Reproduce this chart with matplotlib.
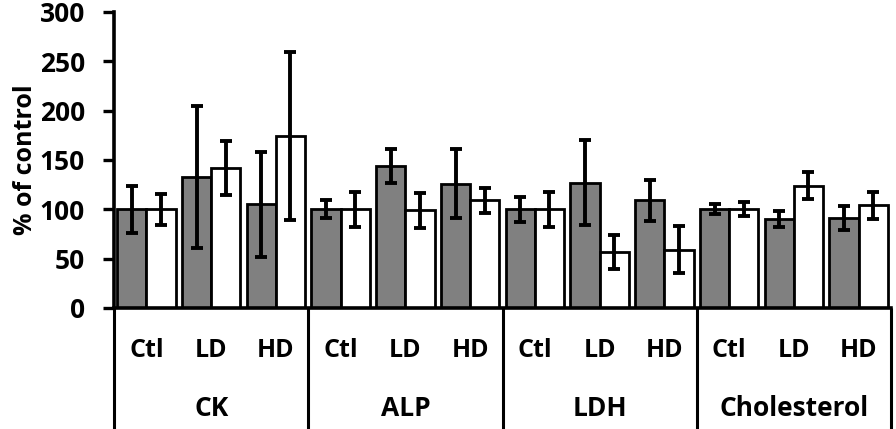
import matplotlib
matplotlib.use("Agg")
import matplotlib.pyplot as plt
import matplotlib.transforms as mtransforms
import numpy as np

plt.rcParams['font.family'] = ['Open Sans', 'DejaVu Sans']
plt.rcParams['font.weight'] = 'bold'

groups = ['CK', 'ALP', 'LDH', 'Cholesterol']
doses = ['Ctl', 'LD', 'HD']

gray_vals = [100, 133, 105, 100, 144, 126, 100, 127, 109, 100, 90, 91]
gray_err = [24, 72, 53, 9, 17, 35, 13, 43, 21, 5, 8, 12]
white_vals = [100, 142, 174, 100, 99, 109, 100, 57, 59, 100, 124, 104]
white_err = [16, 27, 85, 18, 18, 13, 18, 17, 24, 7, 14, 14]

fig = plt.figure(figsize=(8.96, 4.29), dpi=100)
ax = fig.add_axes([114 / 896, 121 / 429, 777 / 896, 296 / 429])

x = np.arange(len(gray_vals))
w = 0.45
err_kw = dict(elinewidth=2.8, capsize=4.5, capthick=2.8, ecolor='black')
ax.bar(x - w / 2, gray_vals, w, yerr=gray_err, color='#808080',
       edgecolor='black', linewidth=2.0, error_kw=err_kw, zorder=2)
ax.bar(x + w / 2, white_vals, w, yerr=white_err, color='white',
       edgecolor='black', linewidth=2.0, error_kw=err_kw, zorder=2)

ax.set_xlim(-0.5, len(x) - 0.5)
ax.set_ylim(0, 300)
ax.set_yticks(range(0, 301, 50))
ax.tick_params(axis='y', direction='out', length=8, width=2.4, pad=13,
               labelsize=19)
ax.set_xticks([])
for s in ['top', 'right']:
    ax.spines[s].set_visible(False)
ax.spines['left'].set_linewidth(2.6)
ax.spines['bottom'].set_linewidth(2.6)

trans = mtransforms.blended_transform_factory(ax.transData, ax.transAxes)

# group separators below the axis
for b in np.arange(-0.5, len(x), 3):
    ax.plot([b, b], [0, -0.42], color='black', lw=2.2, transform=trans,
            clip_on=False, solid_capstyle='butt')

for i in x:
    ax.text(i, -0.142, doses[i % 3], transform=trans, ha='center',
            va='center', fontsize=18, fontweight='bold')
for g, name in enumerate(groups):
    ax.text(g * 3 + 1, -0.338, name, transform=trans, ha='center',
            va='center', fontsize=19, fontweight='bold')

fig.text(25 / 896, 1 - 160 / 429, '% of control', rotation=90, ha='center',
         va='center', fontsize=18, fontweight='bold')

fig.savefig('out.png', dpi=100)
